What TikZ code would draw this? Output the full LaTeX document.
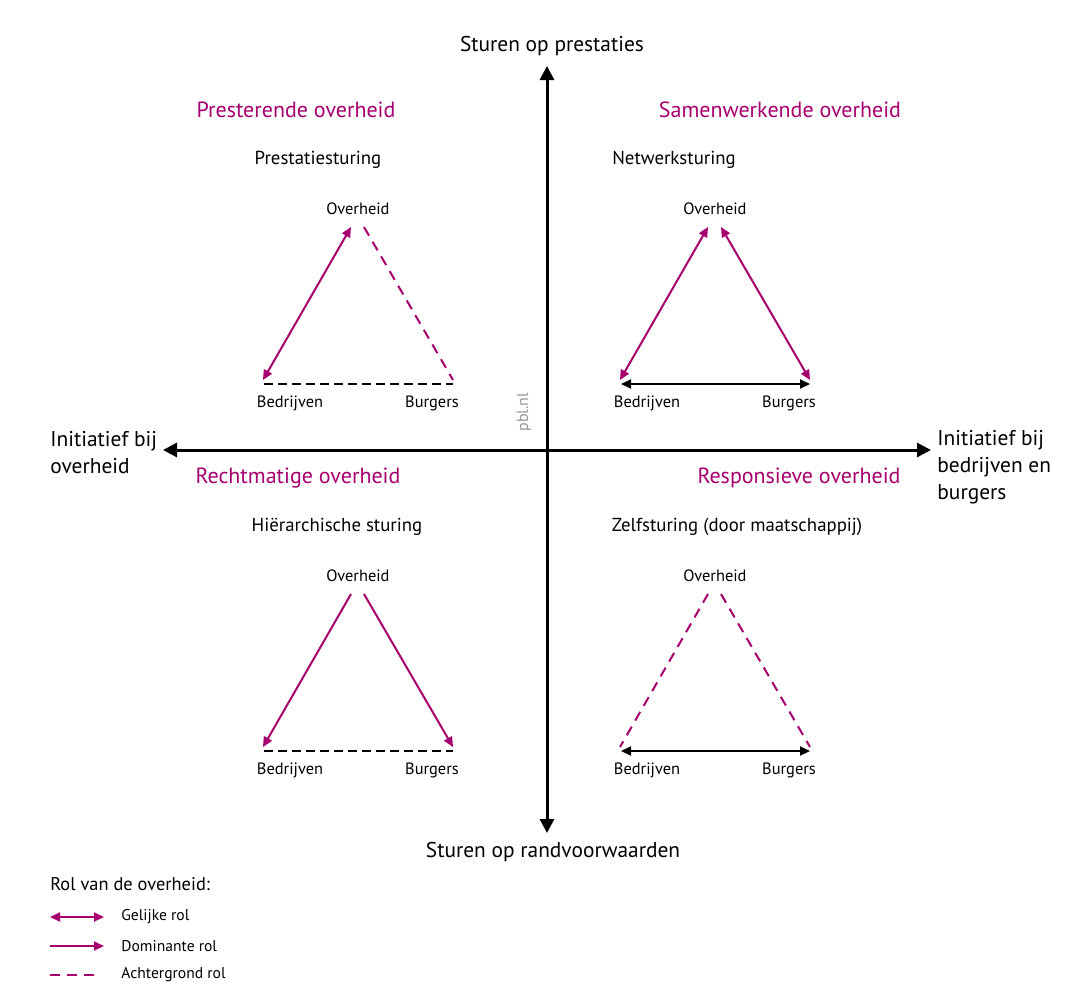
\documentclass[tikz,border=0pt]{standalone}
\usepackage{fontspec}
\setmainfont{PT Sans}
\usepackage{xcolor}
\usetikzlibrary{arrows.meta}

\definecolor{pblroze}{RGB}{166,0,110}
\definecolor{pblgrijs}{RGB}{150,150,150}

\tikzset{
  as/.style={line width=1.5pt,{Triangle[length=7pt,width=7pt]}-{Triangle[length=7pt,width=7pt]}},
  aslabel/.style={font=\fontsize{10.7}{13.5}\selectfont,align=left,inner sep=0pt},
  rol/.style={font=\fontsize{11}{13.5}\selectfont,text=pblroze,inner sep=0pt},
  sturing/.style={font=\fontsize{9.4}{11}\selectfont,inner sep=0pt},
  actor/.style={font=\fontsize{8.2}{9}\selectfont,inner sep=0pt},
  gelijk/.style={pblroze,line width=1pt,{Triangle[length=5pt,width=4.5pt]}-{Triangle[length=5pt,width=4.5pt]}},
  dominant/.style={pblroze,line width=1pt,-{Triangle[length=5pt,width=4.5pt]}},
  achtergrond/.style={pblroze,line width=1pt,dash pattern=on 5pt off 3.5pt},
  gelijkzw/.style={black,line width=1pt,{Triangle[length=5pt,width=4.5pt]}-{Triangle[length=5pt,width=4.5pt]}},
  geenrol/.style={black,line width=1pt,dash pattern=on 4.5pt off 2.5pt},
  legenda/.style={font=\fontsize{7.8}{9}\selectfont,anchor=west,inner sep=0pt}
}

\begin{document}
\begin{tikzpicture}[x=0.5pt,y=-0.5pt]
  \useasboundingbox (0,0) rectangle (1087,991);

  % assen
  \coordinate (as-boven) at (547,66);
  \coordinate (as-onder) at (547,833);
  \coordinate (as-links) at (163,450);
  \coordinate (as-rechts) at (931,450);
  \draw[as] (as-boven) -- (as-onder);
  \draw[as] (as-links) -- (as-rechts);
  \node[aslabel] (prestaties) at (552,46) {Sturen op prestaties};
  \node[aslabel] (randvoorwaarden) at (553,852) {Sturen op randvoorwaarden};
  \node[aslabel,anchor=west] (overheid) at (50,453) {Initiatief bij\\overheid};
  \node[aslabel,anchor=west] (burgers) at (937,467) {Initiatief bij\\bedrijven en\\burgers};
  \node[font=\fontsize{8}{9}\selectfont,text=pblgrijs,rotate=90,inner sep=0pt] (pbl) at (524,412) {pbl.nl};

  % kwadranten
  \node[rol] (presterend) at (296,110) {Presterende overheid};
  \node[rol] (samenwerkend) at (780,110) {Samenwerkende overheid};
  \node[rol] (rechtmatig) at (298,478) {Rechtmatige overheid};
  \node[rol] (responsief) at (799,478) {Responsieve overheid};
  \node[sturing] (prestatiesturing) at (318,160) {Prestatiesturing};
  \node[sturing] (netwerksturing) at (674,160) {Netwerksturing};
  \node[sturing] (hierarchisch) at (337,527) {Hiërarchische sturing};
  \node[sturing] (zelfsturing) at (737,527) {Zelfsturing (door maatschappij)};

  % driehoeken
  \foreach \q/\dx/\dy in {pr/0/0, sa/357/0, re/0/367, rs/357/367} {
    \node[actor] (\q-ov) at (358+\dx,209+\dy) {Overheid};
    \node[actor] (\q-be) at (290+\dx,403+\dy) {Bedrijven};
    \node[actor] (\q-bu) at (432+\dx,403+\dy) {Burgers};
    \coordinate (\q-tl) at (351+\dx,227+\dy);
    \coordinate (\q-tr) at (364+\dx,227+\dy);
    \coordinate (\q-bl) at (263+\dx,380+\dy);
    \coordinate (\q-br) at (453+\dx,380+\dy);
    \coordinate (\q-ol) at (264+\dx,384+\dy);
    \coordinate (\q-or) at (453+\dx,384+\dy);
  }
  \draw[gelijk] (pr-tl) -- (pr-bl);
  \draw[achtergrond] (pr-tr) -- (pr-br);
  \draw[geenrol] (pr-ol) -- (pr-or);

  \draw[gelijk] (sa-tl) -- (sa-bl);
  \draw[gelijk] (sa-tr) -- (sa-br);
  \draw[gelijkzw] (sa-ol) -- (sa-or);

  \draw[dominant] (re-tl) -- (re-bl);
  \draw[dominant] (re-tr) -- (re-br);
  \draw[geenrol] (re-ol) -- (re-or);

  \draw[achtergrond] (rs-tl) -- (rs-bl);
  \draw[achtergrond] (rs-tr) -- (rs-br);
  \draw[gelijkzw] (rs-ol) -- (rs-or);

  % legenda
  \node[font=\fontsize{9.2}{11}\selectfont,anchor=west,inner sep=0pt] (rol) at (50,884) {Rol van de overheid:};
  \foreach \n/\y/\e/\s/\t in {g/917/104/gelijk/Gelijke rol, d/946/104/dominant/Dominante rol, a/975/95/achtergrond/Achtergrond rol} {
    \coordinate (leg-\n-a) at (50,\y);
    \coordinate (leg-\n-b) at (\e,\y);
    \draw[\s] (leg-\n-a) -- (leg-\n-b);
    \node[legenda] (leg-\n) at (121,\y) {\t};
  }
\end{tikzpicture}
\end{document}
